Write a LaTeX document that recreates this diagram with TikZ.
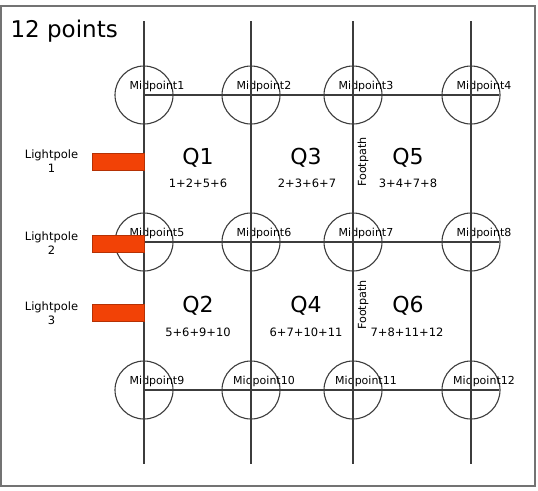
\documentclass[tikz,border=0pt]{standalone}
\usepackage{fontspec}
\setmainfont{DejaVu Sans}
\usetikzlibrary{positioning}

\definecolor{polered}{RGB}{242,66,6}
\definecolor{roadgray}{RGB}{60,60,60}

\begin{document}
\begin{tikzpicture}[x=1pt,y=-1pt,line width=1.1pt]
  \tikzstyle{road}=[draw=roadgray]
  \tikzstyle{mid}=[circle,draw=roadgray,minimum size=58pt,inner sep=0pt]
  \tikzstyle{tag}=[font=\fontsize{11}{12}\selectfont,inner sep=0pt,xshift=13pt,yshift=9pt]
  \tikzstyle{pole}=[rectangle,fill=polered,draw=polered!75!black,line width=0.6pt,
    minimum width=52pt,minimum height=17pt,inner sep=0pt]
  \tikzstyle{polelabel}=[font=\fontsize{11.5}{14}\selectfont,align=center,inner sep=0pt]
  \tikzstyle{quad}=[font=\fontsize{22}{24}\selectfont,inner sep=0pt]
  \tikzstyle{sum}=[font=\fontsize{11.5}{12}\selectfont,inner sep=0pt]
  \tikzstyle{foot}=[font=\fontsize{11.2}{12}\selectfont,inner sep=0pt,rotate=90]

  \useasboundingbox (0,0) rectangle (538,490);
  \draw[black!55,line width=1.6pt] (1,6) rectangle (535,486);

  \node[font=\fontsize{23}{26}\selectfont,anchor=base west,inner sep=0pt] (title) at (10,37) {12 points};

  % street ends
  \coordinate (T1) at (144,21);  \coordinate (B1) at (144,464);
  \coordinate (T2) at (251,21);  \coordinate (B2) at (251,464);
  \coordinate (T3) at (353,21);  \coordinate (B3) at (353,464);
  \coordinate (T4) at (471,21);  \coordinate (B4) at (471,464);
  \coordinate (R1) at (499,95);
  \coordinate (R2) at (499,242);
  \coordinate (R3) at (499,390);

  % midpoints
  \node[mid,label={[tag]center:Midpoint1}]  (M1)  at (144,95)  {};
  \node[mid,label={[tag]center:Midpoint2}]  (M2)  at (251,95)  {};
  \node[mid,label={[tag]center:Midpoint3}]  (M3)  at (353,95)  {};
  \node[mid,label={[tag]center:Midpoint4}]  (M4)  at (471,95)  {};
  \node[mid,label={[tag]center:Midpoint5}]  (M5)  at (144,242) {};
  \node[mid,label={[tag]center:Midpoint6}]  (M6)  at (251,242) {};
  \node[mid,label={[tag]center:Midpoint7}]  (M7)  at (353,242) {};
  \node[mid,label={[tag]center:Midpoint8}]  (M8)  at (471,242) {};
  \node[mid,label={[tag]center:Midpoint9}]  (M9)  at (144,390) {};
  \node[mid,label={[tag]center:Midpoint10}] (M10) at (251,390) {};
  \node[mid,label={[tag]center:Midpoint11}] (M11) at (353,390) {};
  \node[mid,label={[tag]center:Midpoint12}] (M12) at (471,390) {};

  \draw[road] (T1) -- (B1);
  \draw[road] (T2) -- (B2);
  \draw[road] (T3) -- (B3);
  \draw[road] (T4) -- (B4);
  \draw[road] (M1.center) -- (R1);
  \draw[road] (M5.center) -- (R2);
  \draw[road] (M9.center) -- (R3);

  % lightpoles
  \node[pole] (P1) at (118,161.5) {};
  \node[pole] (P2) at (118,243.5) {};
  \node[pole] (P3) at (118,313)   {};
  \node[polelabel,left=13pt of P1] (LP1) {Lightpole\\1};
  \node[polelabel,left=13pt of P2] (LP2) {Lightpole\\2};
  \node[polelabel,left=13pt of P3] (LP3) {Lightpole\\3};

  % quadrants
  \node[quad] (Q1) at (198,158) {Q1};
  \node[quad] (Q3) at (306,158) {Q3};
  \node[quad] (Q5) at (408,158) {Q5};
  \node[quad] (Q2) at (198,306) {Q2};
  \node[quad] (Q4) at (306,306) {Q4};
  \node[quad] (Q6) at (408,306) {Q6};
  \node[sum] (S1) at (198,183) {1+2+5+6};
  \node[sum] (S3) at (307,183) {2+3+6+7};
  \node[sum] (S5) at (408,183) {3+4+7+8};
  \node[sum] (S2) at (198,332) {5+6+9+10};
  \node[sum] (S4) at (306,332) {6+7+10+11};
  \node[sum] (S6) at (407,332) {7+8+11+12};

  \node[foot] (F1) at (363,162) {Footpath};
  \node[foot] (F2) at (363,305) {Footpath};
\end{tikzpicture}
\end{document}
